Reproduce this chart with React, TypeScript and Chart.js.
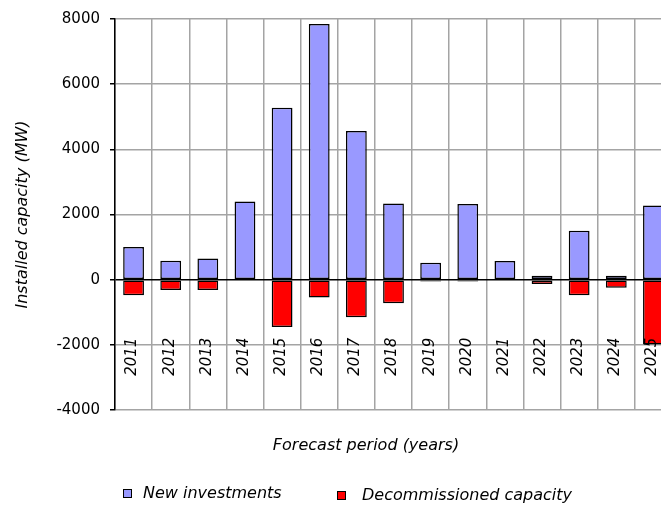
import { useEffect, useRef } from "react";
import { Chart, registerables } from "chart.js";

Chart.register(...registerables);

// Forecast years
const years = [
  "2011", "2012", "2013", "2014", "2015", "2016", "2017", "2018",
  "2019", "2020", "2021", "2022", "2023", "2024", "2025",
];

// New generating capacity added per year (MW)
const newInvestments = [
  1000, 580, 650, 2400, 5280, 7850, 4560, 2340,
  520, 2320, 570, 120, 1500, 120, 2280,
];

// Capacity taken out of service per year (MW, negative)
const decommissioned = [
  -480, -320, -320, null, -1450, -550, -1150, -720,
  -60, -60, null, -130, -480, -250, -1990,
];

const yMin = -4000;
const yMax = 8000;
const yStep = 2000;

const yTitle = "Installed capacity (MW)";
const xTitle = "Forecast period (years)";
const seriesNames = ["New investments", "Decommissioned capacity"];

const FONT = "'DejaVu Sans', Verdana, sans-serif";
const GRID = "#a4a4a4";

// Rotated year labels, axis title and legend drawn on the canvas
const decorations = {
  id: "decorations",
  afterDatasetsDraw(chart: any) {
    const { ctx, scales } = chart;
    const x = scales.x;
    const y = scales.y;
    const zero = y.getPixelForValue(0);
    ctx.save();
    ctx.fillStyle = "#000";
    ctx.font = `italic 15px ${FONT}`;
    ctx.textAlign = "right";
    ctx.textBaseline = "middle";
    chart.data.labels.forEach((lab: string, i: number) => {
      const px = x.getPixelForValue(i);
      ctx.save();
      ctx.translate(px - 1, zero + 58);
      ctx.rotate(-Math.PI / 2);
      ctx.fillText(lab, 0, 0);
      ctx.restore();
    });
    ctx.restore();
  },
  afterDraw(chart: any) {
    const { ctx } = chart;
    ctx.save();
    ctx.fillStyle = "#000";
    ctx.font = `italic 16px ${FONT}`;
    ctx.textAlign = "center";
    ctx.textBaseline = "middle";
    ctx.fillText(xTitle, 366, 446);

    const items = [
      { bx: 123, by: 489, tx: 143 },
      { bx: 337, by: 491, tx: 362 },
    ];
    chart.data.datasets.forEach((ds: any, i: number) => {
      const it = items[i];
      ctx.fillStyle = ds.backgroundColor;
      ctx.fillRect(it.bx, it.by, 9, 9);
      ctx.strokeStyle = "#000";
      ctx.lineWidth = 1;
      ctx.strokeRect(it.bx + 0.5, it.by + 0.5, 8, 8);
      ctx.fillStyle = "#000";
      ctx.textAlign = "left";
      ctx.fillText(ds.label, it.tx, it.by + 4.5);
    });
    ctx.restore();
  },
};

export default function App() {
  const ref = useRef<HTMLCanvasElement>(null);

  useEffect(() => {
    if (!ref.current) return;
    const chart = new Chart(ref.current, {
      type: "bar",
      data: {
        labels: years,
        datasets: [
          {
            label: seriesNames[0],
            data: newInvestments,
            backgroundColor: "#9999ff",
            borderColor: "#000",
            borderWidth: 1.5,
            borderSkipped: false,
            barPercentage: 0.56,
            categoryPercentage: 1,
          },
          {
            label: seriesNames[1],
            data: decommissioned as any,
            backgroundColor: "#ff0000",
            borderColor: "#000",
            borderWidth: 1.5,
            borderSkipped: false,
            barPercentage: 0.56,
            categoryPercentage: 1,
          },
        ],
      },
      options: {
        responsive: false,
        animation: false,
        devicePixelRatio: 1,
        layout: { padding: { left: 0, top: 14, right: 8, bottom: 0 } },
        plugins: {
          legend: { display: false },
          tooltip: { enabled: false },
        },
        scales: {
          x: {
            stacked: true,
            offset: true,
            grid: {
              offset: true,
              color: GRID,
              lineWidth: 1.5,
              drawTicks: false,
            },
            border: { display: false },
            ticks: { display: false },
            afterFit: (s: any) => {
              s.height = 97;
            },
          },
          y: {
            stacked: true,
            min: yMin,
            max: yMax,
            ticks: {
              stepSize: yStep,
              color: "#000",
              padding: 10,
              font: { family: FONT, size: 15 },
              callback: (v: any) => String(v),
            },
            grid: {
              color: (c: any) => (c.tick && c.tick.value === 0 ? "#000" : GRID),
              lineWidth: 1.5,
              tickLength: 5,
              tickColor: "#000",
            },
            border: { color: "#000", width: 1.5 },
            title: {
              display: true,
              text: yTitle,
              color: "#000",
              font: { family: FONT, size: 16, style: "italic" },
              padding: { top: 13, bottom: 0 },
            },
            afterFit: (s: any) => {
              s.width = 115;
            },
          },
        },
      },
      plugins: [decorations],
    });
    return () => chart.destroy();
  }, []);

  return (
    <div
      style={{
        position: "fixed",
        left: 0,
        top: 0,
        width: 661,
        height: 507,
        overflow: "hidden",
        background: "#fff",
      }}
    >
      <canvas ref={ref} width={680} height={507} style={{ display: "block" }} />
    </div>
  );
}
